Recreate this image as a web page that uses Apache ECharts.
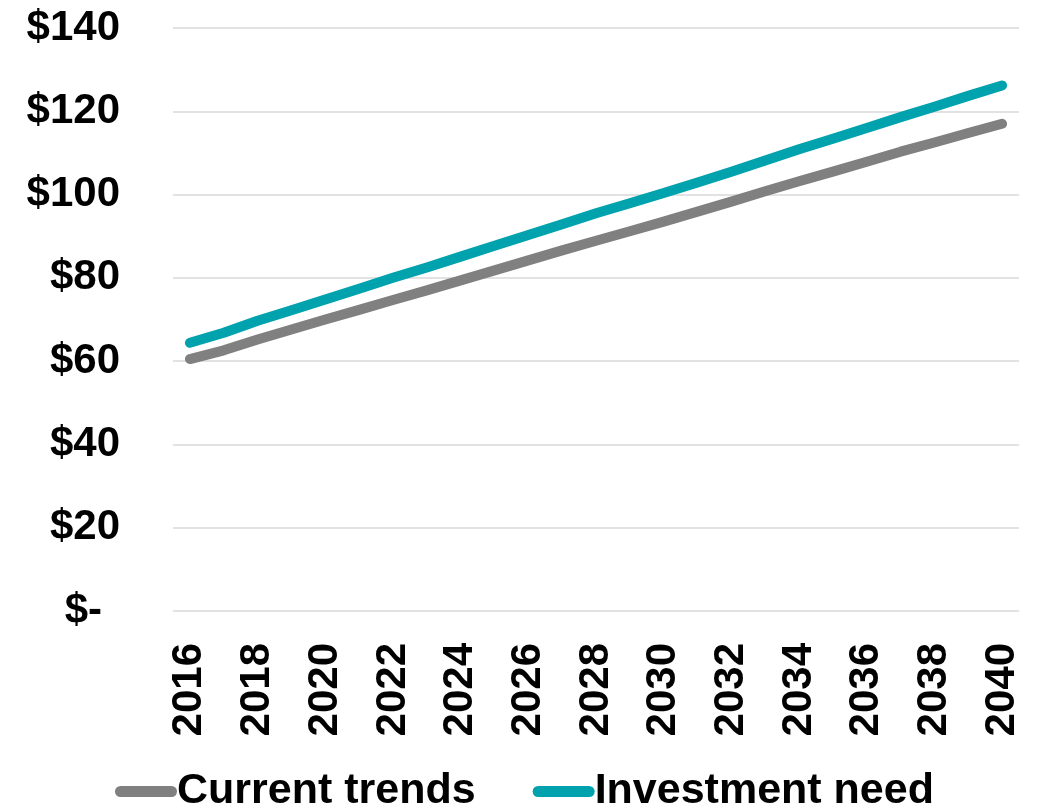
<!DOCTYPE html>
<html>
<head>
<meta charset="utf-8">
<script src="https://cdn.jsdelivr.net/npm/echarts@6/dist/echarts.min.js"></script>
<style>
html,body{margin:0;padding:0;background:#fff;}
#chart{width:1038px;height:811px;}
</style>
</head>
<body>
<div id="chart"></div>
<script>
const years = ['2016','2017','2018','2019','2020','2021','2022','2023','2024','2025','2026','2027','2028','2029','2030','2031','2032','2033','2034','2035','2036','2037','2038','2039','2040'];
const currentTrends = [60.5,62.6,65.2,67.6,70.0,72.3,74.7,77.0,79.4,81.8,84.2,86.6,88.9,91.2,93.5,95.9,98.3,100.8,103.2,105.5,107.9,110.3,112.5,114.8,117.0];
const investmentNeed = [64.4,66.8,69.7,72.2,74.8,77.4,80.0,82.5,85.1,87.7,90.3,92.9,95.5,97.9,100.4,102.9,105.5,108.2,110.9,113.4,116.0,118.6,121.1,123.7,126.2];
const seriesNames = ['Current trends','Investment need'];
const yTicks = [0,20,40,60,80,100,120,140];

const chart = echarts.init(document.getElementById('chart'), null, {renderer:'canvas'});
const capsule = 'path://M5.5,0 H56.5 A5.5,5.5 0 0 1 56.5,11 H5.5 A5.5,5.5 0 0 1 5.5,0 Z';
chart.setOption({
  animation:false,
  backgroundColor:'#ffffff',
  grid:{left:173,right:19,top:28,bottom:200,containLabel:false},
  legend:{
    data:seriesNames,
    left:110, top:765,
    itemWidth:62, itemHeight:11, itemGap:57,
    icon:capsule,
    textStyle:{fontFamily:'Liberation Sans, Arial, sans-serif',fontSize:43,fontWeight:'bold',color:'#000',padding:[0,0,0,-5]}
  },
  xAxis:{
    type:'category',
    data:years,
    boundaryGap:true,
    axisLine:{show:false},
    axisTick:{show:false},
    axisLabel:{
      interval:1,
      rotate:90,
      margin:32,
      fontFamily:'Liberation Sans, Arial, sans-serif',
      fontSize:42,
      fontWeight:'bold',
      color:'#000'
    },
    splitLine:{show:false}
  },
  yAxis:{
    type:'value',
    min:yTicks[0], max:yTicks[yTicks.length-1], interval:20,
    axisLine:{show:false},
    axisTick:{show:false},
    splitLine:{lineStyle:{color:'#D9D9D9',width:1.5}},
    axisLabel:{
      margin:53,
      fontFamily:'Liberation Sans, Arial, sans-serif',
      fontSize:42,
      fontWeight:'bold',
      color:'#000',
      formatter:function(v){ return v===0 ? '{z|$-}' : '$'+v; },
      rich:{z:{fontFamily:'Liberation Sans, Arial, sans-serif',fontSize:42,fontWeight:'bold',color:'#000',padding:[0,18,0,0]}}
    }
  },
  series:[
    {name:seriesNames[0],type:'line',data:currentTrends,symbol:'none',color:'#808080',
     lineStyle:{width:10,color:'#808080',cap:'round',join:'round'}},
    {name:seriesNames[1],type:'line',data:investmentNeed,symbol:'none',color:'#00A2AD',
     lineStyle:{width:10,color:'#00A2AD',cap:'round',join:'round'}}
  ]
});
</script>
</body>
</html>
